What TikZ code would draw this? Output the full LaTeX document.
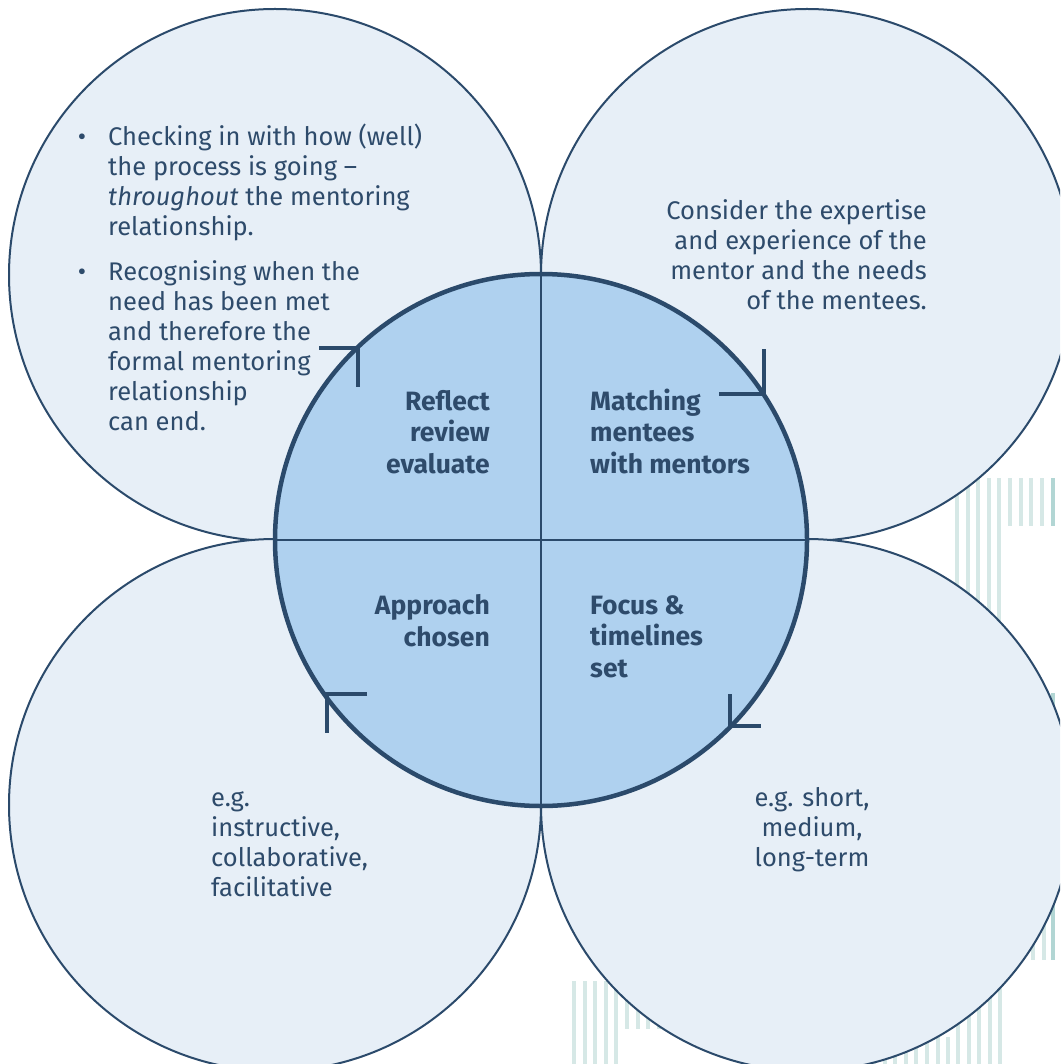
\documentclass[tikz,border=0pt]{standalone}
\usepackage{fontspec}
\setmainfont{Fira Sans}
\usepackage{xcolor}
\usetikzlibrary{positioning}
\definecolor{navyline}{RGB}{43,74,107}
\definecolor{navytext}{RGB}{46,75,107}
\definecolor{paleblue}{RGB}{231,239,247}
\definecolor{midblue}{RGB}{175,209,239}
\definecolor{stripepale}{RGB}{214,232,230}
\definecolor{stripedark}{RGB}{178,214,212}

\tikzset{
  outer/.style={fill=paleblue, draw=navyline, line width=2pt},
  hub/.style={fill=midblue, draw=navyline, line width=4.5pt},
  divider/.style={draw=navyline, line width=1.2pt},
  turn/.style={draw=navyline, line width=4pt},
  stripe/.style={fill=stripepale},
  body/.style={font=\fontsize{25.5}{30}\selectfont, text=navytext, inner sep=0pt},
  stage/.style={font=\fontsize{26.5}{31.5}\selectfont\bfseries, text=navytext, inner sep=0pt},
}

\begin{document}
\begin{tikzpicture}[x=1pt, y=-1pt]
    \useasboundingbox (0,0) rectangle (1060,1064);
    \clip (0,0) rectangle (1060,1064);

    % stripes behind the circles
    \foreach \i in {0,...,4} {
        \fill[stripe] ({955+10.6*\i},478) rectangle +(4,222);
        \fill[stripe] ({572+10.6*\i},981) rectangle +(4,83);
        \fill[stripe] ({956+10.6*\i},981) rectangle +(4,83);
    }
    \foreach \i in {5,...,8} {
        \fill[stripe] ({955+10.6*\i},478) rectangle +(4,48);
        \fill[stripe] ({572+10.6*\i},981) rectangle +(4,48);
    }
    \foreach \i in {0,...,7} {
        \fill[stripe] ({872+10.6*\i},1037) rectangle +(4,27);
    }
    \foreach \i in {0,...,2} {
        \fill[stripe] ({1020.5+10.5*\i},850) rectangle +(4,110);
    }
    \fill[stripedark] (1051,478) rectangle +(4,48);
    \fill[stripedark] (1051,693) rectangle +(4,267);

    % four outer circles and the hub
    \foreach \cx/\cy in {275/275, 807/275, 275/805, 807/805} {
        \draw[outer] (\cx,\cy) circle (266);
    }
    \draw[hub] (541,540) circle (266);
    \draw[divider] (275,540) -- (807,540);
    \draw[divider] (541,274) -- (541,806);

    % turning marks on the hub
    \coordinate (tl) at (358,348);
    \coordinate (tr) at (764,394);
    \coordinate (br) at (730,726);
    \coordinate (bl) at (327,694);
    \draw[turn] (tl) +(-39,0) -- (tl) -- +(0,39);
    \draw[turn] (tr) +(-45,0) -- (tr) -- +(0,-45);
    \draw[turn] (br) +(0,-32) -- (br) -- +(31,0);
    \draw[turn] (bl) +(40,0) -- (bl) -- +(0,39);

    % stage labels (base = last line)
    \node[stage, anchor=base east, align=right] (reflect) at (490,473) {Reflect\\review\\evaluate};
    \node[stage, anchor=base west, align=left] (matching) at (590,473) {Matching\\mentees\\with mentors};
    \node[stage, anchor=base east, align=right] (approach) at (490,646) {Approach\\chosen};
    \node[stage, anchor=base west, align=left] (focus) at (590,677) {Focus \&\\timelines\\set};

    % notes in the outer circles
    \node[body, anchor=base] (dot1) at (82,146) {•};
    \node[body, anchor=base west, align=left] (checking) at (108,236)
        {Checking in with how (well)\\the process is going –\\\textit{throughout} the mentoring\\relationship.};
    \node[body, anchor=base] (dot2) at (82,280) {•};
    \node[body, anchor=base west, align=left] (recognising) at (108,430)
        {Recognising when the\\need has been met\\and therefore the\\formal mentoring\\relationship\\can end.};
    \node[body, anchor=base east, align=right] (consider) at (927,309)
        {Consider the expertise\\and experience of the\\mentor and the needs\\of the mentees.};
    \node[body, anchor=base west, align=left] (eg1) at (211,896)
        {e.g.\\instructive,\\collaborative,\\facilitative};
    \node[body, anchor=base, align=center] (eg2) at (812,866)
        {e.g. short,\\medium,\\long-term};
\end{tikzpicture}
\end{document}
